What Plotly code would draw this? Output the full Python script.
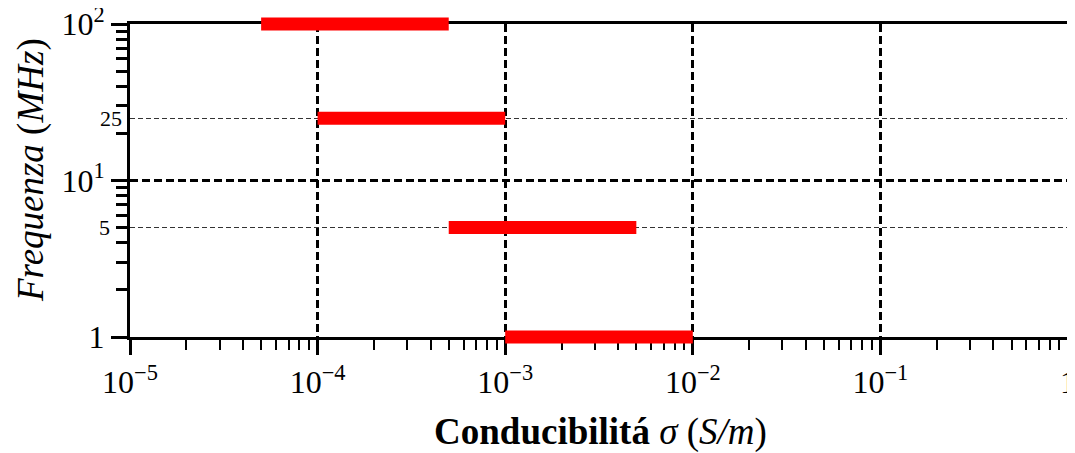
import plotly.graph_objects as go

# Data
freq_mhz = [1, 5, 25, 100]
sigma_min = [1e-3, 5e-4, 1e-4, 5e-5]
sigma_max = [1e-2, 5e-3, 1e-3, 5e-4]

x_tickvals = [1e-5, 1e-4, 1e-3, 1e-2, 1e-1, 1]
x_ticktext = ["10<sup>−5</sup>", "10<sup>−4</sup>", "10<sup>−3</sup>", "10<sup>−2</sup>", "10<sup>−1</sup>", "1"]
y_major_vals = [1, 10, 100]
y_major_text = ["1", "10<sup>1</sup>", "10<sup>2</sup>"]
y_extra_vals = [5, 25]
y_extra_text = ["5", "25"]

FONT = "Liberation Serif"

# Geometry: page body has a default 8px margin, so the figure is offset
OFF = 8
VIEW_W, VIEW_H = 1075, 453
W, H = VIEW_W - OFF, VIEW_H - OFF
# axes box in screenshot pixels
BOX_L, BOX_R, BOX_T, BOX_B = 130, 1068, 24, 337
PAD = 8                                # extra room so thick edge bars are not clipped
m_l = BOX_L - OFF
m_r = W - (BOX_R - OFF)
paper_top = BOX_T - OFF - PAD
paper_bottom = BOX_B - OFF + PAD
paper_h = paper_bottom - paper_top
paper_w = W - m_l - m_r
y_lo, y_hi = 0, 2
px_per_dec = (BOX_B - BOX_T) / (y_hi - y_lo)
dom = [PAD / paper_h, 1 - PAD / paper_h]
bar_range = [y_lo - PAD / px_per_dec, y_hi + PAD / px_per_dec]


def px_to_paper_y(py):
    return (paper_bottom - (py - OFF)) / paper_h


def px_to_paper_x(px):
    return ((px - OFF) - m_l) / paper_w


fig = go.Figure()

# dummy traces for the visible axes
fig.add_trace(go.Scatter(x=[None], y=[None], showlegend=False, hoverinfo="skip"))
fig.add_trace(go.Scatter(x=[None], y=[None], yaxis="y2", showlegend=False, hoverinfo="skip"))
fig.add_trace(go.Scatter(x=[None], y=[None], yaxis="y4", showlegend=False, hoverinfo="skip"))

for f, lo, hi in zip(freq_mhz, sigma_min, sigma_max):
    fig.add_trace(go.Scatter(
        x=[lo, hi], y=[f, f], mode="lines", xaxis="x2", yaxis="y3",
        line=dict(color="#ff0000", width=13),
        showlegend=False, hoverinfo="skip",
    ))

extra_axis_common = dict(
    type="log", range=[y_lo, y_hi], overlaying="y", side="left", automargin=False,
    tickfont=dict(size=22, family=FONT), ticks="",
    showline=False, showgrid=True, gridcolor="#333333", gridwidth=1.3,
    griddash="5px,3px", zeroline=False,
)

fig.update_layout(
    width=W, height=H,
    margin=dict(l=m_l, r=m_r, t=paper_top, b=H - paper_bottom, autoexpand=False, pad=0),
    paper_bgcolor="white", plot_bgcolor="rgba(0,0,0,0)",
    font=dict(family=FONT, color="black"),
    xaxis=dict(
        type="log", range=[-5, 0], automargin=False, ticklabeloverflow="allow",
        tickvals=x_tickvals, ticktext=x_ticktext,
        tickfont=dict(size=32, family=FONT),
        ticks="outside", ticklen=15, tickwidth=2.5, tickcolor="black",
        showline=True, linewidth=3, linecolor="black", mirror=True,
        showgrid=True, gridcolor="black", gridwidth=2.5, griddash="8px,4px",
        zeroline=False, anchor="y",
        minor=dict(ticks="outside", ticklen=10, tickwidth=2, tickcolor="black",
                   dtick="D1", showgrid=False),
    ),
    xaxis2=dict(
        type="log", range=[-5, 0], domain=[0, 1], anchor="y3",
        visible=False, showgrid=False, zeroline=False,
    ),
    yaxis=dict(
        type="log", range=[y_lo, y_hi], domain=dom, automargin=False,
        ticklabeloverflow="allow",
        tickvals=y_major_vals, ticktext=y_major_text,
        tickfont=dict(size=32, family=FONT),
        ticks="outside", ticklen=16, tickwidth=2.5, tickcolor="black",
        showline=True, linewidth=3, linecolor="black", mirror=True,
        showgrid=True, gridcolor="black", gridwidth=2.5, griddash="8px,4px",
        zeroline=False,
        minor=dict(ticks="outside", ticklen=11, tickwidth=2.5, tickcolor="black",
                   dtick="D1", showgrid=False),
    ),
    yaxis2=dict(tickvals=y_extra_vals[:1], ticktext=y_extra_text[:1],
                ticklabelstandoff=19, **extra_axis_common),
    yaxis4=dict(tickvals=y_extra_vals[1:], ticktext=y_extra_text[1:],
                ticklabelstandoff=7, **extra_axis_common),
    yaxis3=dict(
        type="log", range=bar_range, domain=[0, 1], anchor="x2",
        visible=False, showgrid=False, zeroline=False,
    ),
    annotations=[
        dict(text="<b>Conducibilitá</b> <i>σ</i> (<i>S/m</i>)", xref="paper", yref="paper",
             x=px_to_paper_x(600), y=px_to_paper_y(432), xanchor="center", yanchor="middle",
             showarrow=False, font=dict(size=37, family=FONT)),
        dict(text="<i>Frequenza</i> (<i>MHz</i>)", xref="paper", yref="paper",
             x=px_to_paper_x(31), y=px_to_paper_y(170),
             xanchor="center", yanchor="middle", showarrow=False,
             textangle=-90, font=dict(size=37, family=FONT)),
    ],
)

fig.write_html("out.html")
